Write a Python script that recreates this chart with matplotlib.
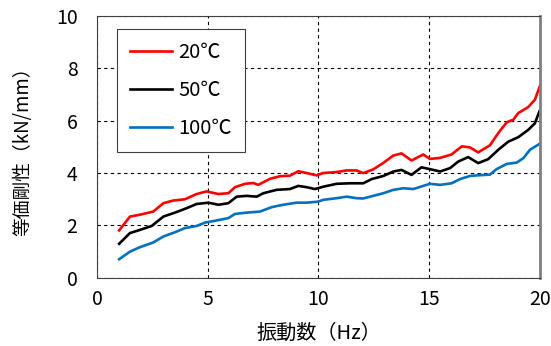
import matplotlib
matplotlib.use('Agg')
import matplotlib.pyplot as plt

plt.rcParams['font.family'] = ['Noto Sans CJK JP', 'DejaVu Sans']

# 20℃
x20 = [1.0, 1.49, 1.94, 2.54, 3.0, 3.44, 3.97, 4.5, 4.95, 5.48, 5.93, 6.23, 6.68, 7.06, 7.28,
       7.81, 8.26, 8.71, 9.09, 9.47, 9.92, 10.2, 10.82, 11.27, 11.72, 12.02, 12.47, 12.93,
       13.38, 13.75, 14.2, 14.73, 15.03, 15.49, 16.01, 16.47, 16.84, 17.21, 17.74, 18.12,
       18.5, 18.8, 19.02, 19.47, 19.77, 20.0]
y20 = [1.81, 2.34, 2.41, 2.53, 2.85, 2.95, 3.0, 3.2, 3.3, 3.2, 3.23, 3.46, 3.59, 3.62, 3.55,
       3.78, 3.88, 3.9, 4.07, 4.0, 3.91, 4.0, 4.04, 4.1, 4.1, 4.0, 4.14, 4.39,
       4.67, 4.75, 4.48, 4.71, 4.54, 4.58, 4.71, 5.02, 4.98, 4.79, 5.06, 5.53,
       5.94, 6.04, 6.29, 6.52, 6.8, 7.33]

# 50℃
x50 = [1.0, 1.49, 1.94, 2.47, 3.0, 3.52, 4.05, 4.5, 5.03, 5.48, 5.93, 6.31, 6.76, 7.21, 7.51,
       8.11, 8.71, 9.09, 9.47, 9.84, 10.22, 10.82, 11.42, 12.02, 12.4, 12.93, 13.38, 13.75,
       14.2, 14.65, 15.03, 15.49, 15.94, 16.31, 16.76, 17.21, 17.66, 18.12, 18.57, 19.02,
       19.47, 19.77, 19.97]
y50 = [1.30, 1.71, 1.83, 1.98, 2.34, 2.49, 2.66, 2.82, 2.87, 2.79, 2.85, 3.1, 3.13, 3.1, 3.23,
       3.36, 3.39, 3.51, 3.46, 3.39, 3.48, 3.59, 3.61, 3.61, 3.77, 3.89, 4.06, 4.12,
       3.93, 4.22, 4.15, 4.06, 4.19, 4.44, 4.61, 4.38, 4.53, 4.89, 5.2, 5.37,
       5.65, 5.9, 6.35]

# 100℃
x100 = [1.0, 1.49, 1.94, 2.54, 3.0, 3.52, 3.97, 4.5, 4.88, 5.4, 5.93, 6.23, 6.76, 7.36, 7.89,
        8.41, 9.02, 9.47, 9.99, 10.22, 10.82, 11.27, 11.72, 12.02, 12.47, 12.93, 13.38,
        13.83, 14.28, 14.73, 15.03, 15.49, 16.01, 16.39, 16.84, 17.29, 17.74, 18.04, 18.5,
        18.95, 19.25, 19.55, 19.97]
y100 = [0.71, 1.0, 1.17, 1.35, 1.58, 1.74, 1.9, 1.98, 2.11, 2.19, 2.28, 2.44, 2.49, 2.53, 2.7,
        2.79, 2.87, 2.87, 2.91, 2.98, 3.04, 3.1, 3.04, 3.03, 3.13, 3.23, 3.36,
        3.42, 3.39, 3.51, 3.59, 3.55, 3.61, 3.77, 3.89, 3.92, 3.94, 4.15, 4.35,
        4.4, 4.57, 4.89, 5.11]

fig = plt.figure(figsize=(5.51, 3.46), dpi=100)
ax = fig.add_axes([0.176, 0.197, 0.804, 0.757])

ax.plot(x20, y20, color='#ff0000', linewidth=1.9, label='20℃')
ax.plot(x50, y50, color='#000000', linewidth=1.9, label='50℃')
ax.plot(x100, y100, color='#0070c0', linewidth=1.9, label='100℃')

ax.set_xlim(0, 20)
ax.set_ylim(0, 10)
ax.set_xticks([0, 5, 10, 15, 20])
ax.set_yticks([0, 2, 4, 6, 8, 10])
ax.tick_params(length=0, labelsize=14)
ax.tick_params(axis='x', pad=8)
ax.tick_params(axis='y', pad=14)
ax.grid(True, color='black', linestyle=(0, (3, 3)), linewidth=0.8)

for s in ['left', 'bottom', 'top']:
    ax.spines[s].set_color('#404040')
    ax.spines[s].set_linewidth(0.8)
ax.spines['right'].set_color('#808080')
ax.spines['right'].set_linewidth(2)

ax.set_xlabel('振動数（Hz）', fontsize=14.5, labelpad=9)
ax.set_ylabel('等価剛性（kN/mm）', fontsize=13.5, labelpad=16)

leg = ax.legend(loc='upper left', bbox_to_anchor=(0.045, 0.95), borderaxespad=0,
                fontsize=14.5, fancybox=False, framealpha=1, edgecolor='#404040',
                handlelength=2.1, handletextpad=0.3, labelspacing=0.85, borderpad=0.65)
leg.get_frame().set_linewidth(0.8)

fig.savefig('out.png', dpi=100)
